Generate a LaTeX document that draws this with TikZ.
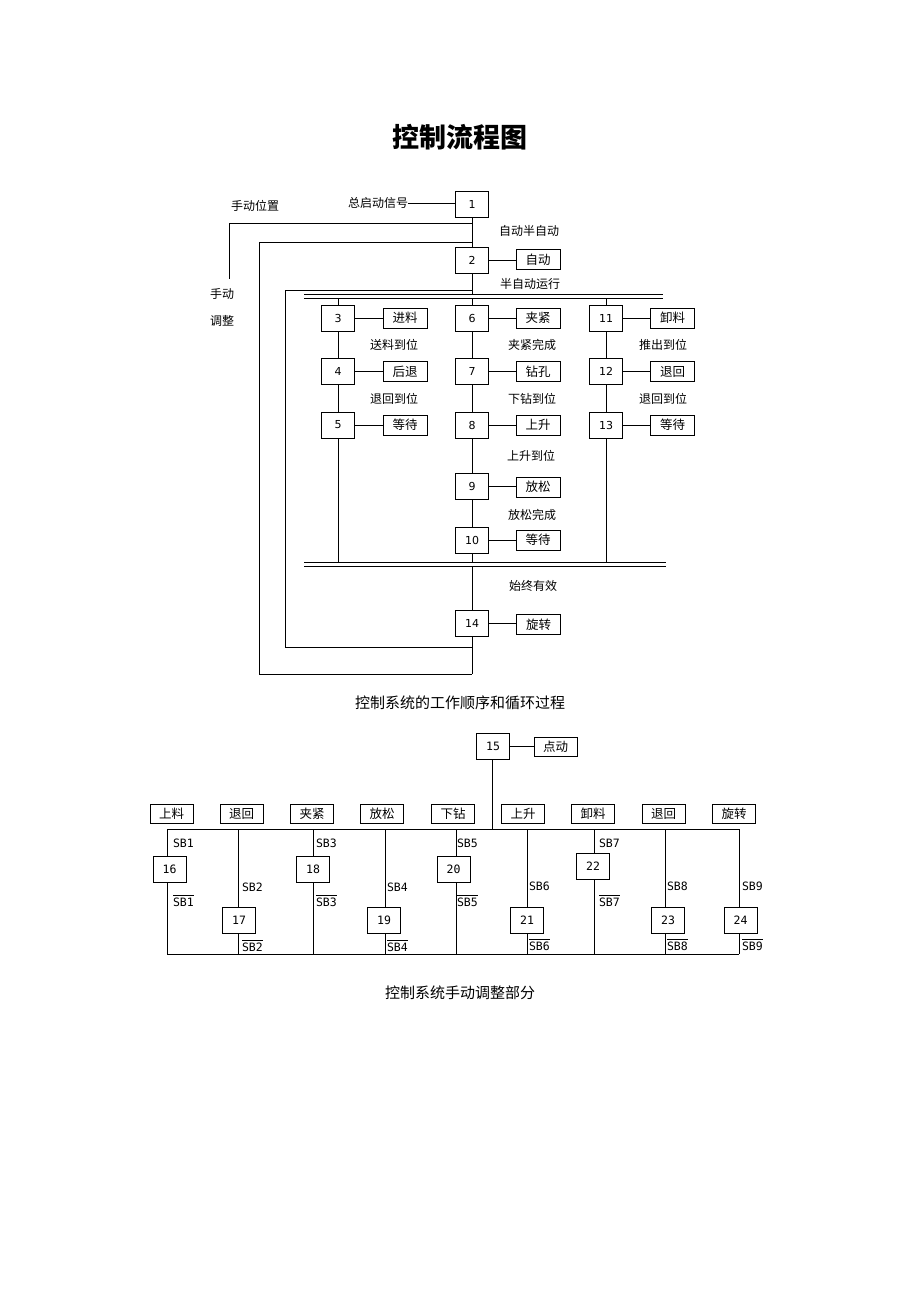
\documentclass[tikz,border=0pt]{standalone}
\usepackage{fontspec}
\setmainfont{DejaVu Sans}
\newfontfamily\cjk{Noto Sans CJK SC}
\newfontfamily\monof{DejaVu Sans Mono}
\newcommand\ovl[1]{\vbox{\hrule height 0.7pt\kern1.8pt\hbox{#1}}}
\begin{document}
\begin{tikzpicture}[x=1pt,y=-1pt,
 every node/.style={inner sep=0pt, outer sep=0pt},
 stepbox/.style={draw, line width=1pt, minimum width=33pt, minimum height=26pt, fill=white, font=\fontsize{11}{11}\selectfont},
 mstepbox/.style={draw, line width=1pt, minimum width=33pt, minimum height=26pt, fill=white, font=\monof\fontsize{11.5}{11.5}\selectfont},
 actbox/.style={draw, line width=1pt, minimum width=44pt, minimum height=20pt, font=\cjk\fontsize{12.5}{12.5}\selectfont},
 actbox2/.style={draw, line width=1pt, minimum width=43pt, minimum height=19pt, font=\cjk\fontsize{12.5}{12.5}\selectfont},
 lbl/.style={font=\cjk\fontsize{12}{12}\selectfont},
 sbl/.style={anchor=west, font=\monof\fontsize{11.5}{11.5}\selectfont},
 captext/.style={font=\cjk\fontsize{15}{16}\selectfont},
 ln/.style={line width=1pt}]
\useasboundingbox (0,0) rectangle (920,1302);

% ---------- title ----------
\node[font=\cjk\bfseries\fontsize{27}{27}\selectfont] (title) at (460,137) {控制流程图};

% ---------- upper chart: steps ----------
\node[stepbox] (s1) at (472,204) {1};
\node[stepbox] (s2) at (472,260) {2};
\node[stepbox] (s3) at (338,318) {3};
\node[stepbox] (s4) at (338,371) {4};
\node[stepbox] (s5) at (338,425) {5};
\node[stepbox] (s6) at (472,318) {6};
\node[stepbox] (s7) at (472,371) {7};
\node[stepbox] (s8) at (472,425) {8};
\node[stepbox] (s9) at (472,486.5) {9};
\node[stepbox] (s10) at (472,540) {10};
\node[stepbox] (s11) at (606,318) {11};
\node[stepbox] (s12) at (606,371) {12};
\node[stepbox] (s13) at (606,425) {13};
\node[stepbox] (s14) at (472,623.5) {14};

% action boxes
\node[actbox] (a2) at (538,259.5) {自动};
\node[actbox] (a3) at (405,318) {进料};
\node[actbox] (a4) at (405,371.5) {后退};
\node[actbox] (a5) at (405,425) {等待};
\node[actbox] (a6) at (538,318) {夹紧};
\node[actbox] (a7) at (538,371.5) {钻孔};
\node[actbox] (a8) at (538,425) {上升};
\node[actbox] (a9) at (538,487) {放松};
\node[actbox] (a10) at (538,540) {等待};
\node[actbox] (a11) at (672.5,318) {卸料};
\node[actbox] (a12) at (672.5,371.5) {退回};
\node[actbox] (a13) at (672.5,425) {等待};
\node[actbox] (a14) at (538.5,624.5) {旋转};

\foreach \i in {2,...,14}{\draw[ln] (s\i.east) -- (s\i.east -| a\i.west);}

% labels
\node[lbl, anchor=east] (zq) at (408,203) {总启动信号};
\draw[ln] (zq.east) -- (zq.east -| s1.west);
\node[lbl] (sdwz) at (255,206) {手动位置};
\node[lbl] (sd) at (222,294) {手动};
\node[lbl] (tz) at (222,321) {调整};
\node[lbl] (zb) at (529,231) {自动半自动};
\node[lbl] (bzy) at (530,284) {半自动运行};
\node[lbl] (t3) at (394,345) {送料到位};
\node[lbl] (t4) at (394,399) {退回到位};
\node[lbl] (t6) at (532,345) {夹紧完成};
\node[lbl] (t7) at (532,399) {下钻到位};
\node[lbl] (t8) at (531,456) {上升到位};
\node[lbl] (t9) at (532,515) {放松完成};
\node[lbl] (t11) at (663,345) {推出到位};
\node[lbl] (t12) at (663,399) {退回到位};
\node[lbl] (t10) at (533,586) {始终有效};

% branch / loop coordinates
\coordinate (j1) at (472,223);
\coordinate (m1) at (229,223);
\coordinate (m1e) at (229,279);
\coordinate (j2) at (472,242);
\coordinate (m2) at (259,242);
\coordinate (m2b) at (259,674);
\coordinate (j2b) at (472,674);
\coordinate (j3) at (472,290.5);
\coordinate (m3) at (285,290.5);
\coordinate (m3b) at (285,647);
\coordinate (j3b) at (472,647);

% double lines
\coordinate (da1) at (304,294);   \coordinate (db1) at (663,294);
\coordinate (da2) at (304,298.5); \coordinate (db2) at (663,298.5);
\coordinate (dc1) at (304,562.5); \coordinate (dd1) at (666,562.5);
\coordinate (dc2) at (304,566);   \coordinate (dd2) at (666,566);
\draw[ln] (da1) -- (db1);
\draw[ln] (da2) -- (db2);
\draw[ln] (dc1) -- (dd1);
\draw[ln] (dc2) -- (dd2);

\draw[ln] (s1.south) -- (s2.north);
\draw[ln] (j1) -- (m1) -- (m1e);
\draw[ln] (j2) -- (m2) -- (m2b) -- (j2b);
\draw[ln] (j3) -- (m3) -- (m3b) -- (j3b);
\draw[ln] (s2.south) -- (s2.south |- da1);

% columns
\draw[ln] (s3.north |- da2) -- (s3.north);
\draw[ln] (s3.south) -- (s4.north);
\draw[ln] (s4.south) -- (s5.north);
\draw[ln] (s5.south) -- (s5.south |- dc1);
\draw[ln] (s6.north |- da2) -- (s6.north);
\draw[ln] (s6.south) -- (s7.north);
\draw[ln] (s7.south) -- (s8.north);
\draw[ln] (s8.south) -- (s9.north);
\draw[ln] (s9.south) -- (s10.north);
\draw[ln] (s10.south) -- (s10.south |- dc1);
\draw[ln] (s14.north |- dc2) -- (s14.north);
\draw[ln] (s14.south) -- (j2b);
\draw[ln] (s11.north |- da2) -- (s11.north);
\draw[ln] (s11.south) -- (s12.north);
\draw[ln] (s12.south) -- (s13.north);
\draw[ln] (s13.south) -- (s13.south |- dc1);

\node[captext] (cap1) at (460,703) {控制系统的工作顺序和循环过程};

% ---------- lower chart ----------
\node[mstepbox] (s15) at (493,746.5) {15};
\node[actbox2] (a15) at (555.5,747) {点动};
\draw[ln] (s15.east) -- (s15.east -| a15.west);
\coordinate (bt) at (492,829);
\draw[ln] (s15.south -| bt) -- (bt);

\node[actbox2] (b1) at (171.5,813.5) {上料};
\node[actbox2] (b2) at (241.5,813.5) {退回};
\node[actbox2] (b3) at (312,813.5) {夹紧};
\node[actbox2] (b4) at (382,813.5) {放松};
\node[actbox2] (b5) at (453,813.5) {下钻};
\node[actbox2] (b6) at (523,813.5) {上升};
\node[actbox2] (b7) at (593,813.5) {卸料};
\node[actbox2] (b8) at (663.5,813.5) {退回};
\node[actbox2] (b9) at (734,813.5) {旋转};

\coordinate (tl) at (167,829); \coordinate (tr) at (739,829);
\coordinate (bl) at (167,954); \coordinate (br) at (739,954);
\draw[ln] (tl) -- (tr);
\draw[ln] (bl) -- (br);
\foreach \x in {167,238,313,385,456,527,594,665,739}{
  \draw[ln] (\x,829) -- (\x,954);
}

\node[mstepbox] (s16) at (169.5,869) {16};
\node[mstepbox] (s17) at (239,920) {17};
\node[mstepbox] (s18) at (313,869) {18};
\node[mstepbox] (s19) at (384,920) {19};
\node[mstepbox] (s20) at (453.5,869) {20};
\node[mstepbox] (s21) at (527,920) {21};
\node[mstepbox] (s22) at (593,866.5) {22};
\node[mstepbox] (s23) at (668,920) {23};
\node[mstepbox] (s24) at (740.5,920) {24};

\node[sbl] (sb1) at (173,843) {SB1};
\node[sbl] (sb1n) at (173,901) {\ovl{SB1}};
\node[sbl] (sb2) at (242,887) {SB2};
\node[sbl] (sb2n) at (242,946) {\ovl{SB2}};
\node[sbl] (sb3) at (316,843) {SB3};
\node[sbl] (sb3n) at (316,901) {\ovl{SB3}};
\node[sbl] (sb4) at (387,887) {SB4};
\node[sbl] (sb4n) at (387,946) {\ovl{SB4}};
\node[sbl] (sb5) at (457,843) {SB5};
\node[sbl] (sb5n) at (457,901) {\ovl{SB5}};
\node[sbl] (sb6) at (529,886) {SB6};
\node[sbl] (sb6n) at (529,945) {\ovl{SB6}};
\node[sbl] (sb7) at (599,843) {SB7};
\node[sbl] (sb7n) at (599,901) {\ovl{SB7}};
\node[sbl] (sb8) at (667,886) {SB8};
\node[sbl] (sb8n) at (667,945) {\ovl{SB8}};
\node[sbl] (sb9) at (742,886) {SB9};
\node[sbl] (sb9n) at (742,945) {\ovl{SB9}};

\node[captext] (cap2) at (460,993) {控制系统手动调整部分};
\end{tikzpicture}
\end{document}
